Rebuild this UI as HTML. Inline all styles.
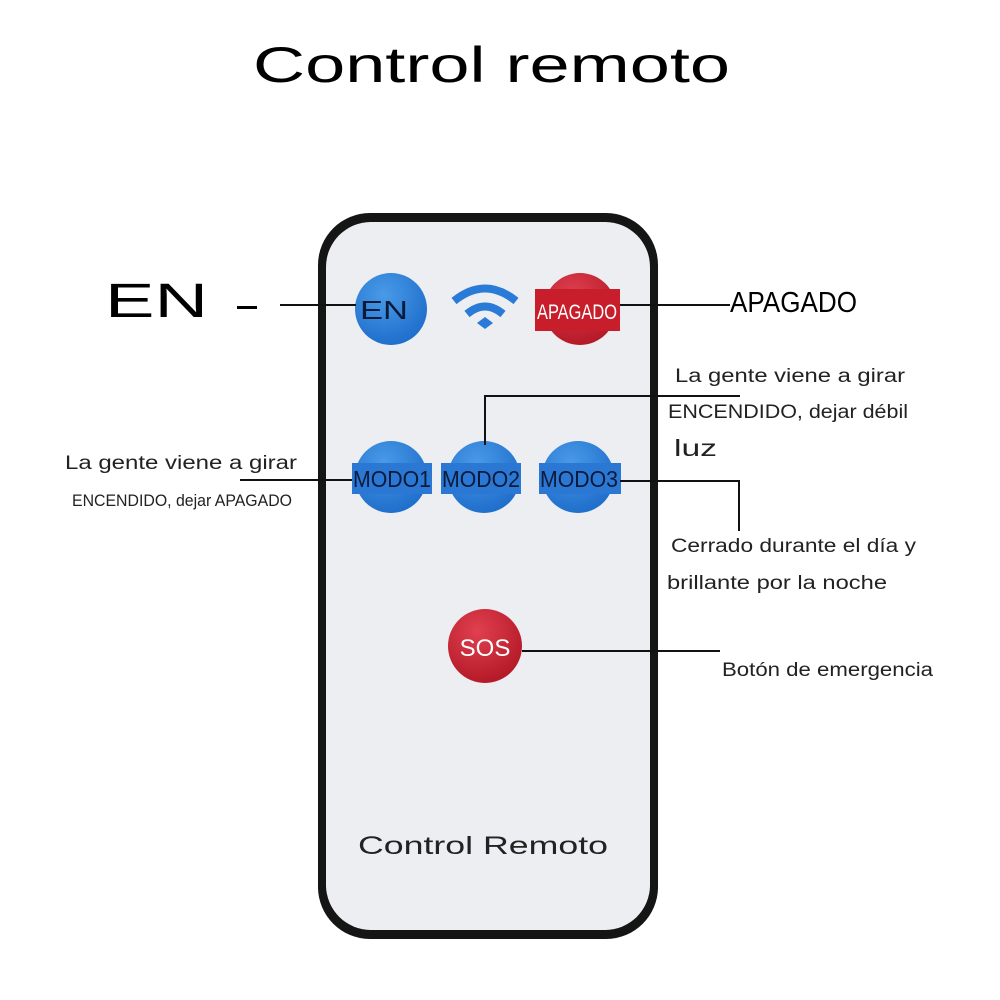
<!DOCTYPE html>
<html><head><meta charset="utf-8"><style>
body{margin:0;width:1000px;height:1000px;background:#fff;overflow:hidden;font-family:"Liberation Sans",sans-serif}
svg{display:block}
</style></head><body>
<svg width="1000" height="1000" viewBox="0 0 1000 1000" xmlns="http://www.w3.org/2000/svg">
<defs>
<radialGradient id="bl" cx="0.4" cy="0.3" r="0.7"><stop offset="0" stop-color="#4a9ae8"/><stop offset="1" stop-color="#1f6fcc"/></radialGradient>
<radialGradient id="rd" cx="0.4" cy="0.3" r="0.7"><stop offset="0" stop-color="#e04050"/><stop offset="1" stop-color="#b51a28"/></radialGradient>
</defs>
<text x="253" y="82" font-size="50" fill="#000" textLength="477" lengthAdjust="spacingAndGlyphs">Control remoto</text>
<rect x="318" y="213" width="340" height="726" rx="52" fill="#151515"/>
<rect x="326" y="222" width="324" height="708" rx="45" fill="#eceef2"/>
<circle cx="391" cy="309" r="36" fill="url(#bl)"/>
<text x="360" y="319" font-size="26" fill="#0c1a3a" textLength="48" lengthAdjust="spacingAndGlyphs">EN</text>
<circle cx="580" cy="309" r="36" fill="url(#rd)"/>
<rect x="535" y="289" width="85" height="42" fill="#c81e2c"/>
<text x="577" y="319" font-size="21" text-anchor="middle" fill="#fff" textLength="80" lengthAdjust="spacingAndGlyphs">APAGADO</text>
<path d="M454 301 Q485 276 516 301" stroke="#2a7bd8" stroke-width="8" fill="none"/>
<path d="M467 314 Q485 299 503 314" stroke="#2a7bd8" stroke-width="8" fill="none"/>
<path d="M477 323 L485 317 L493 323 L485 329Z" fill="#2a7bd8"/>
<g font-size="23" fill="#0c1a3a">
<circle cx="391" cy="477" r="36" fill="url(#bl)"/><rect x="352" y="463" width="80" height="31" fill="#2a78d4"/>
<text x="392" y="487" text-anchor="middle" textLength="78" lengthAdjust="spacingAndGlyphs">MODO1</text>
<circle cx="484" cy="477" r="36" fill="url(#bl)"/><rect x="441" y="463" width="80" height="31" fill="#2a78d4"/>
<text x="481" y="487" text-anchor="middle" textLength="78" lengthAdjust="spacingAndGlyphs">MODO2</text>
<circle cx="578" cy="477" r="36" fill="url(#bl)"/><rect x="539" y="463" width="82" height="31" fill="#2a78d4"/>
<text x="579" y="487" text-anchor="middle" textLength="78" lengthAdjust="spacingAndGlyphs">MODO3</text>
</g>
<circle cx="485" cy="646" r="37" fill="url(#rd)"/>
<text x="485" y="656" font-size="24" text-anchor="middle" fill="#fff">SOS</text>
<text x="358" y="854" font-size="25" fill="#222" textLength="250" lengthAdjust="spacingAndGlyphs">Control Remoto</text>
<g stroke="#111" stroke-width="2" fill="none">
<line x1="280" y1="305" x2="356" y2="305"/>
<line x1="620" y1="305" x2="730" y2="305"/>
<polyline points="485,445 485,396 740,396"/>
<line x1="240" y1="480" x2="352" y2="480"/>
<polyline points="620,481 739,481 739,531"/>
<line x1="522" y1="651" x2="720" y2="651"/>
</g>
<text x="105" y="317" font-size="48" fill="#000" textLength="103" lengthAdjust="spacingAndGlyphs">EN</text>
<rect x="237" y="306" width="20" height="3" fill="#000"/>
<text x="730" y="312" font-size="29" fill="#000" textLength="127" lengthAdjust="spacingAndGlyphs">APAGADO</text>
<g font-size="19" fill="#222">
<text x="675" y="382" textLength="230" lengthAdjust="spacingAndGlyphs">La gente viene a girar</text>
<text x="668" y="418" textLength="240" lengthAdjust="spacingAndGlyphs">ENCENDIDO, dejar débil</text>
<text x="674" y="456" font-size="23" textLength="43" lengthAdjust="spacingAndGlyphs">luz</text>
<text x="65" y="469" textLength="232" lengthAdjust="spacingAndGlyphs">La gente viene a girar</text>
<text x="72" y="506" font-size="17" textLength="220" lengthAdjust="spacingAndGlyphs">ENCENDIDO, dejar APAGADO</text>
<text x="671" y="552" textLength="245" lengthAdjust="spacingAndGlyphs">Cerrado durante el día y</text>
<text x="667" y="589" textLength="220" lengthAdjust="spacingAndGlyphs">brillante por la noche</text>
<text x="722" y="676" textLength="211" lengthAdjust="spacingAndGlyphs">Botón de emergencia</text>
</g>
</svg>
</body></html>
